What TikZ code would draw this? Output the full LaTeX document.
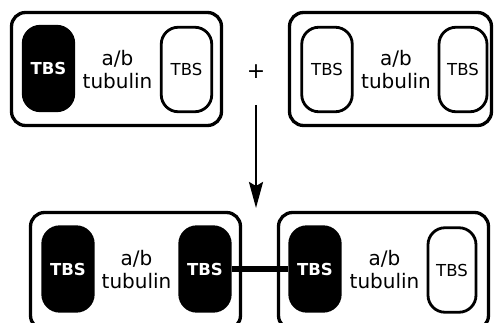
\documentclass[tikz,border=0pt]{standalone}
\usepackage{fontspec}
\setmainfont{DejaVu Sans}
\usetikzlibrary{arrows.meta}
\tikzset{
  outerbox/.style={draw, line width=3.3pt, rounded corners=14pt, inner sep=0pt},
  tbsw/.style={draw, line width=2.8pt, rounded corners=17pt, fill=white, inner sep=0pt,
    minimum width=50.5pt, minimum height=84.5pt, font=\fontsize{16.5}{19}\selectfont},
  tbsb/.style={tbsw, fill=black, text=white, font=\fontsize{16.5}{19}\selectfont\bfseries},
  lbl/.style={align=center, inner sep=0pt, font=\fontsize{20}{23}\selectfont},
}
\begin{document}
\begin{tikzpicture}[x=1pt,y=-1pt]
\clip (0,0) rectangle (495,323);
\fill[white] (0,0) rectangle (495,323);
% top row
\node[outerbox, minimum width=210pt, minimum height=113pt] (TL) at (116.5,69) {};
\node[outerbox, minimum width=202pt, minimum height=113pt] (TR) at (390.5,69) {};
\node[tbsb] (TLa) at (48.5,68.5) {TBS};
\node[tbsw] (TLb) at (186.5,69.5) {TBS};
\node[lbl] (TLt) at (117.5,70) {a/b\\tubulin};
\node[tbsw] (TRa) at (327,69.5) {TBS};
\node[tbsw, minimum width=48pt] (TRb) at (463,69.5) {TBS};
\node[lbl] (TRt) at (396,70) {a/b\\tubulin};
% plus and arrow
\node[inner sep=0pt, font=\fontsize{22}{26}\selectfont] (plus) at (256,72) {+};
\coordinate (a1) at (256,105);
\coordinate (a2) at (256,208);
\draw[line width=2.5pt, -{Stealth[length=26pt,width=14pt,inset=4pt]}] (a1) -- (a2);
% bottom row
\node[outerbox, minimum width=210pt, minimum height=117pt] (BL) at (135.5,271) {};
\node[outerbox, minimum width=210pt, minimum height=117pt] (BR) at (383.5,271) {};
\node[tbsb] (BLa) at (68,269) {TBS};
\node[tbsb] (BLb) at (205,269) {TBS};
\node[lbl] (BLt) at (136.5,270) {a/b\\tubulin};
\node[tbsb] (BRa) at (315,269) {TBS};
\node[tbsw, minimum width=48pt] (BRb) at (452,270) {TBS};
\node[lbl] (BRt) at (384.5,270) {a/b\\tubulin};
\draw[line width=6pt] (BLb.east) -- (BRa.west);
\end{tikzpicture}
\end{document}
